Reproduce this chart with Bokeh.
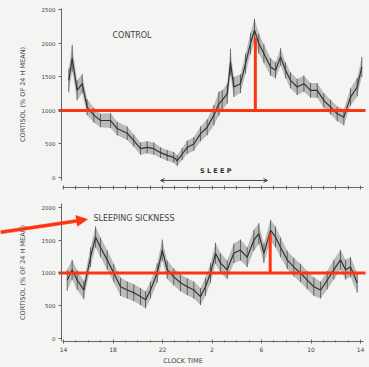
import math
from bokeh.plotting import figure
from bokeh.layouts import column
from bokeh.models import Range1d, FixedTicker, Arrow, OpenHead, Label, ColumnDataSource, PolyAnnotation
from bokeh.embed import file_html
from bokeh.resources import INLINE

# Clock hours (14 h on day 1 through 14 h on day 2, counted continuously)
tick_hours = [14, 18, 22, 26, 30, 34, 38]
tick_labels = ["14", "18", "22", "2", "6", "10", "14"]
y_ticks_top = [0, 500, 1000, 1500, 2000, 2500]
y_ticks_bottom = [0, 500, 1000, 1500, 2000]

# Control subjects: cortisol as % of 24 h mean (x10)
control_hours = [14.43, 14.70, 15.10, 15.51, 15.91, 16.45, 16.99, 17.80, 18.34, 19.15,
                 19.68, 20.22, 20.76, 21.30, 21.84, 22.38, 22.91, 23.19, 23.59, 24.00,
                 24.53, 25.07, 25.61, 26.15, 26.55, 26.82, 27.23, 27.49, 27.76, 28.30,
                 28.71, 29.11, 29.43, 29.78, 30.19, 30.73, 31.13, 31.54, 31.94, 32.34,
                 32.88, 33.42, 33.96, 34.50, 35.03, 35.58, 36.12, 36.65, 37.19, 37.73, 38.10]
control_values = [1450, 1780, 1300, 1400, 1050, 930, 850, 850, 730, 660,
                  550, 430, 450, 430, 370, 330, 300, 250, 350, 450,
                  500, 650, 750, 930, 1100, 1150, 1250, 1720, 1350, 1400,
                  1700, 2000, 2200, 2000, 1850, 1650, 1600, 1800, 1600, 1450,
                  1350, 1400, 1300, 1300, 1150, 1050, 950, 900, 1200, 1350, 1650]
control_sem = [180, 200, 150, 140, 120, 110, 100, 110, 100, 100,
               90, 90, 90, 90, 80, 80, 80, 80, 90, 100,
               100, 110, 120, 150, 180, 150, 150, 200, 150, 140,
               150, 160, 170, 150, 140, 130, 120, 130, 120, 120,
               120, 120, 110, 110, 110, 110, 110, 120, 130, 140, 150]
control_peak_hour = 29.5
control_peak_value = 2090

# Sleeping sickness patients
patient_hours = [14.30, 14.70, 15.11, 15.64, 16.18, 16.59, 16.99, 17.53, 18.06, 18.61,
                 19.15, 19.68, 20.22, 20.63, 21.03, 21.57, 21.98, 22.38, 22.91, 23.45,
                 24.00, 24.53, 25.07, 25.47, 25.88, 26.28, 26.69, 27.23, 27.76, 28.30,
                 28.84, 29.38, 29.78, 30.19, 30.73, 31.13, 31.54, 32.08, 32.61, 33.15,
                 33.69, 34.23, 34.77, 35.31, 35.84, 36.38, 36.79, 37.19, 37.73]
patient_values = [890, 1050, 890, 740, 1240, 1550, 1390, 1200, 1000, 790,
                  740, 700, 640, 590, 740, 1000, 1350, 1050, 940, 850,
                  790, 740, 640, 790, 1000, 1300, 1150, 1050, 1300, 1350,
                  1240, 1500, 1600, 1300, 1650, 1550, 1390, 1200, 1090, 1000,
                  890, 790, 740, 890, 1050, 1200, 1050, 1090, 850]
patient_sem = [160, 150, 150, 140, 150, 160, 150, 150, 140, 140,
               130, 130, 130, 130, 130, 150, 160, 140, 130, 130,
               130, 130, 130, 140, 150, 160, 150, 140, 150, 160,
               150, 160, 160, 150, 160, 160, 150, 140, 140, 140,
               140, 140, 130, 140, 150, 150, 150, 150, 150]
patient_peak_hour = 30.7
patient_peak_value = 1600

mean_level = 1000

BG = "#f4f4f2"
RED = "#ff3311"
INK = "#333333"
AXIS = "#666666"
FONT = "DejaVu Sans"

# The plotting frame spans the full canvas width; the y axes sit at a fixed
# hour so the left margin stays drawable (the red pointer starts there).
FRAME_W = 365
x_start, x_end = 8.91, 38.4
y_axis_hour = 13.84


def style(p, y_bounds):
    p.background_fill_color = BG
    p.border_fill_color = BG
    p.outline_line_color = None
    p.xgrid.visible = False
    p.ygrid.visible = False
    for ax in (p.xaxis, p.yaxis):
        ax.axis_line_color = AXIS
        ax.major_tick_line_color = AXIS
        ax.minor_tick_line_color = AXIS
        ax.major_label_text_color = "#444444"
        ax.major_label_text_font = FONT
        ax.axis_label_text_font = FONT
        ax.axis_label_text_color = "#444444"
        ax.axis_label_text_font_style = "normal"
    p.xaxis.bounds = (13.9, 38.2)
    p.yaxis.fixed_location = y_axis_hour
    p.yaxis.bounds = y_bounds
    p.yaxis.major_label_text_font_size = "5.5px"
    p.yaxis.axis_label_text_font_size = "6.5px"
    p.yaxis.major_tick_out = 3
    p.yaxis.major_tick_in = 0
    p.yaxis.minor_tick_line_color = None
    p.yaxis.major_label_standoff = 3
    p.yaxis.axis_label_standoff = 12


def draw_series(p, hours, values, sem):
    lo = [v - s for v, s in zip(values, sem)]
    hi = [v + s for v, s in zip(values, sem)]
    src = ColumnDataSource(dict(x=hours, y=values, lo=lo, hi=hi))
    p.varea(x="x", y1="lo", y2="hi", source=src, fill_color="#8a8a8a", fill_alpha=0.55)
    p.segment(x0="x", y0="lo", x1="x", y1="hi", source=src, line_color="#444444",
              line_width=1, line_alpha=0.75)
    p.line(x="x", y="y", source=src, line_color=INK, line_width=1.2)


def arrow_polygon(x0, y0, x1, y1, sx, sy, shaft=3.0, head_len=11.0, head_w=11.0):
    """Outline of a filled arrow, built in pixel space and mapped back to data units."""
    px0, py0, px1, py1 = x0 * sx, y0 * sy, x1 * sx, y1 * sy
    L = math.hypot(px1 - px0, py1 - py0)
    ux, uy = (px1 - px0) / L, (py1 - py0) / L
    nx, ny = -uy, ux
    bx, by = px1 - ux * head_len, py1 - uy * head_len
    pts = [
        (px0 + nx * shaft / 2, py0 + ny * shaft / 2),
        (bx + nx * shaft / 2, by + ny * shaft / 2),
        (bx + nx * head_w / 2, by + ny * head_w / 2),
        (px1, py1),
        (bx - nx * head_w / 2, by - ny * head_w / 2),
        (bx - nx * shaft / 2, by - ny * shaft / 2),
        (px0 - nx * shaft / 2, py0 - ny * shaft / 2),
    ]
    return [q[0] / sx for q in pts], [q[1] / sy for q in pts]


# ---- control panel ----
top = figure(width=369, height=190, output_backend="svg", toolbar_location=None,
             x_range=Range1d(x_start, x_end), y_range=Range1d(-150, 2567),
             min_border_left=0, min_border_right=4, min_border_top=5, min_border_bottom=3)
style(top, (-45, 2520))
top.yaxis.ticker = FixedTicker(ticks=y_ticks_top)
top.yaxis.axis_label = "CORTISOL (% OF 24 H MEAN)"
top.xaxis.ticker = FixedTicker(ticks=[], minor_ticks=list(range(14, 39)))
top.xaxis.minor_tick_out = 2
top.xaxis.minor_tick_in = 2

draw_series(top, control_hours, control_values, control_sem)
top.segment(x0=[13.6], y0=[mean_level], x1=[38.6], y1=[mean_level], line_color=RED, line_width=3)
top.segment(x0=[control_peak_hour], y0=[mean_level], x1=[control_peak_hour],
            y1=[control_peak_value], line_color=RED, line_width=3)
top.add_layout(Label(x=17.96, y=2119, text="CONTROL", text_font=FONT, text_font_size="8px",
                     text_color="#444444", text_baseline="middle"))
top.add_layout(Arrow(start=OpenHead(size=4, line_color="#444444", line_width=1),
                     end=OpenHead(size=4, line_color="#444444", line_width=1),
                     x_start=21.84, y_start=-45, x_end=30.48, y_end=-45,
                     line_color="#444444", line_width=1))
top.add_layout(Label(x=26.3, y=30, text="S L E E P", text_font=FONT, text_font_size="6.5px",
                     text_color="#333333", text_align="center", text_baseline="bottom",
                     text_font_style="bold"))

# ---- sleeping sickness panel ----
y_lo_b, y_hi_b = -45, 2136
bottom = figure(width=369, height=177, output_backend="svg", toolbar_location=None,
                x_range=Range1d(x_start, x_end), y_range=Range1d(y_lo_b, y_hi_b),
                min_border_left=0, min_border_right=4, min_border_top=8, min_border_bottom=25)
style(bottom, (-45, 2060))
bottom.yaxis.ticker = FixedTicker(ticks=y_ticks_bottom)
bottom.yaxis.axis_label = "CORTISOL (% OF 24 H MEAN)"
bottom.xaxis.ticker = FixedTicker(ticks=tick_hours, minor_ticks=list(range(14, 39)))
bottom.xaxis.major_label_overrides = {h: s for h, s in zip(tick_hours, tick_labels)}
bottom.xaxis.major_label_text_font_size = "6px"
bottom.xaxis.axis_label = "CLOCK TIME"
bottom.xaxis.axis_label_text_font_size = "6.5px"
bottom.xaxis.major_tick_out = 2
bottom.xaxis.major_tick_in = 2
bottom.xaxis.minor_tick_out = 1
bottom.xaxis.minor_tick_in = 1
bottom.xaxis.major_label_standoff = 3
bottom.xaxis.axis_label_standoff = 2

draw_series(bottom, patient_hours, patient_values, patient_sem)
bottom.segment(x0=[13.6], y0=[mean_level], x1=[38.6], y1=[mean_level], line_color=RED, line_width=3)
bottom.segment(x0=[patient_peak_hour], y0=[mean_level], x1=[patient_peak_hour],
               y1=[patient_peak_value], line_color=RED, line_width=3)
bottom.add_layout(Label(x=16.42, y=1833, text="SLEEPING SICKNESS", text_font=FONT,
                        text_font_size="8px", text_color="#444444", text_baseline="middle"))

# red pointer from the left margin towards the patient label
sx = FRAME_W / (x_end - x_start)
sy = 144 / (y_hi_b - y_lo_b)
ax_, ay_ = arrow_polygon(x_start, 1621, 15.94, 1818, sx, sy)
bottom.add_layout(PolyAnnotation(xs=ax_, ys=ay_, fill_color=RED, fill_alpha=1.0,
                                 line_color=RED, line_alpha=1.0, line_width=0.5))

layout = column(top, bottom, spacing=0, styles={"background-color": BG})
open("out.html", "w").write(file_html(layout, INLINE))
